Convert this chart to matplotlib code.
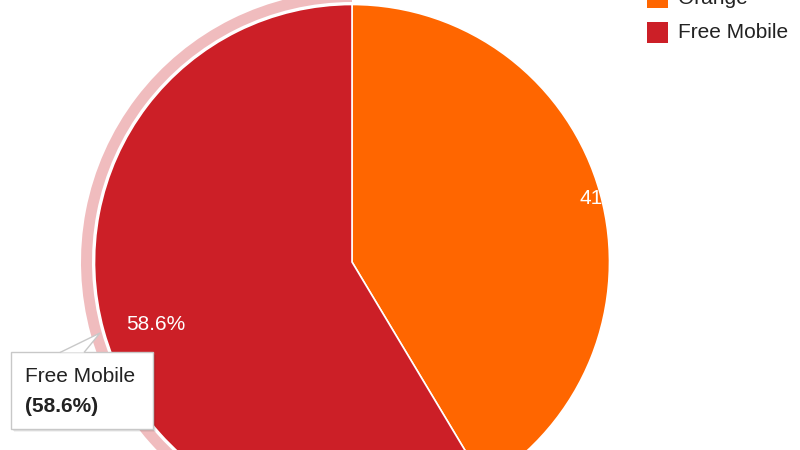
import matplotlib
matplotlib.use("Agg")
import matplotlib.pyplot as plt
from matplotlib.patches import Wedge, Rectangle, Polygon

# data
carriers = ["Orange", "Free Mobile"]
shares = [41.4, 58.6]
labels = ["41.4%", "58.6%"]
highlight = "Free Mobile"

# style
COLORS = ["#FF6600", "#CC1F27"]
RING = "#F0BCBE"
INK = "#222222"
FONT = ["Liberation Sans", "DejaVu Sans"]
H = 450  # figure height in px, used to flip screen y

plt.rcParams["font.family"] = FONT

CX, CY, R = 352, H - 262, 257.5


def Y(y):
    return H - y


fig = plt.figure(figsize=(8, 4.5), dpi=100)
ax = fig.add_axes([0, 0, 1, 1])

wedges, _ = ax.pie(shares, colors=COLORS, startangle=90, counterclock=False,
                   center=(CX, CY), radius=R,
                   wedgeprops=dict(edgecolor="white", linewidth=1.2))

# hover ring around the highlighted slice
hw = wedges[carriers.index(highlight)]
ax.add_patch(Wedge((CX, CY), 271, hw.theta1, hw.theta2, width=11,
                   facecolor=RING, edgecolor="none", zorder=0))

# slice labels (Google clips them to their slice)
label_pos = [(609, 198), (156, 324)]
for w, lab, (x, y) in zip(wedges, labels, label_pos):
    t = ax.text(x, Y(y), lab, color="white", fontsize=15,
                ha="center", va="center", zorder=5)
    t.set_clip_path(w)

# legend
for i, (name, c) in enumerate(zip(carriers, COLORS)):
    top = -13 + 35 * i
    ax.add_patch(Rectangle((647, Y(top + 21)), 21, 21, facecolor=c,
                           edgecolor="none", zorder=5))
    ax.text(678, Y(top + 11), name, color=INK, fontsize=15,
            ha="left", va="center", zorder=5)

# tooltip
bx0, by0, bx1, by1 = 11, 352, 153, 429
for k, a in [(3, 0.05), (2, 0.08), (1, 0.12)]:
    ax.add_patch(Rectangle((bx0 + k, Y(by1 + k)), bx1 - bx0, by1 - by0,
                           facecolor="black", alpha=a, edgecolor="none", zorder=6))
ax.add_patch(Rectangle((bx0, Y(by1)), bx1 - bx0, by1 - by0, facecolor="white",
                       edgecolor="#c8c8c8", linewidth=1, zorder=7))
ax.add_patch(Polygon([(60, Y(352.5)), (100, Y(333)), (84, Y(352.5))],
                     closed=False, facecolor="white", edgecolor="#c8c8c8",
                     linewidth=1, zorder=8))
ax.text(25, Y(377), highlight, color=INK, fontsize=15, ha="left", va="center",
        zorder=9)
ax.text(25, Y(407), f"({labels[carriers.index(highlight)]})", color=INK,
        fontsize=15, fontweight="bold", ha="left", va="center", zorder=9)

ax.set_xlim(0, 800)
ax.set_ylim(0, H)
ax.set_aspect("equal")
ax.axis("off")

fig.savefig("out.png", dpi=100, facecolor="white")
